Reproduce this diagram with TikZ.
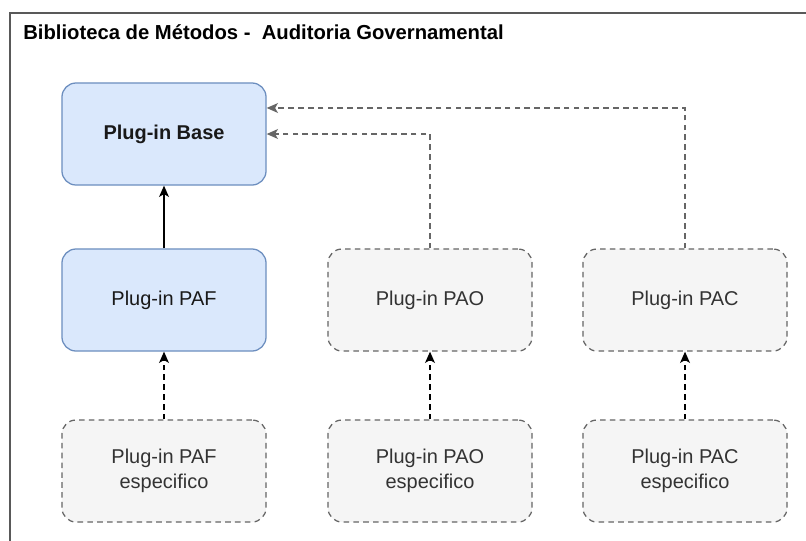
\documentclass[tikz,border=0pt]{standalone}
\usepackage{fontspec}
\setmainfont{Liberation Sans}
\usepackage{xcolor}
\usepackage{tikz}
\usetikzlibrary{shapes,arrows,arrows.meta,positioning,calc}

\definecolor{baseblue}{HTML}{DAE8FC}
\definecolor{baseline}{HTML}{6C8EBF}
\definecolor{plugfill}{HTML}{F5F5F5}
\definecolor{plugline}{HTML}{666666}
\definecolor{plugtext}{HTML}{333333}
\definecolor{framegray}{HTML}{595959}

\tikzstyle{arr}      =[->, line width=1pt, >={Stealth[length=8pt,width=7pt,inset=2pt]}]
\tikzstyle{dasharr}  =[arr, dash pattern=on 4pt off 3pt]
\tikzstyle{grayarr}  =[arr, dash pattern=on 4pt off 3pt, plugline]
\tikzstyle{bluebox}  =[draw=baseline, fill=baseblue, line width=0.9pt, rounded corners=10pt,
                       minimum width=5.1cm, minimum height=2.55cm, align=center,
                       text=black!90, font=\fontsize{14.2pt}{17pt}\selectfont]
\tikzstyle{graybox}  =[draw=plugline, fill=plugfill, line width=0.9pt, rounded corners=10pt,
                       dash pattern=on 4pt off 3pt, minimum width=5.1cm, minimum height=2.55cm,
                       align=center, text=plugtext, font=\fontsize{14.2pt}{17.5pt}\selectfont]

\begin{document}
\begin{tikzpicture}[x=0.025cm, y=-0.025cm]

  \useasboundingbox[fill=white] (0,0) rectangle (806,540);

  % ── frame and title ───────────────────────────────────────────────────────
  \draw[framegray, line width=1.5pt] (10,545) -- (10,13) -- (812,13);
  \node[anchor=base west, inner sep=0pt, font=\bfseries\fontsize{14.4pt}{17pt}\selectfont]
        (title) at (23,39) {Biblioteca de Métodos -\ \ Auditoria Governamental};

  % ── nodes ─────────────────────────────────────────────────────────────────
  \node[bluebox] (base) at (164,134) {\bfseries Plug-in Base};
  \node[bluebox] (paf)  at (164,300) {Plug-in PAF};
  \node[graybox] (pao)  at (430,300) {Plug-in PAO};
  \node[graybox] (pac)  at (685,300) {Plug-in PAC};

  \node[graybox] (pafesp) at (164,471) {Plug-in PAF\\especifico};
  \node[graybox] (paoesp) at (430,471) {Plug-in PAO\\especifico};
  \node[graybox] (pacesp) at (685,471) {Plug-in PAC\\especifico};

  % ── arrows ────────────────────────────────────────────────────────────────
  \draw[arr]     (paf)    -- (base);
  \draw[dasharr] (pafesp) -- (paf);
  \draw[dasharr] (paoesp) -- (pao);
  \draw[dasharr] (pacesp) -- (pac);
  \draw[grayarr] (pao.north) |- (base.east);
  \draw[grayarr] (pac.north) |- ([yshift=0.65cm]base.east);

\end{tikzpicture}
\end{document}
